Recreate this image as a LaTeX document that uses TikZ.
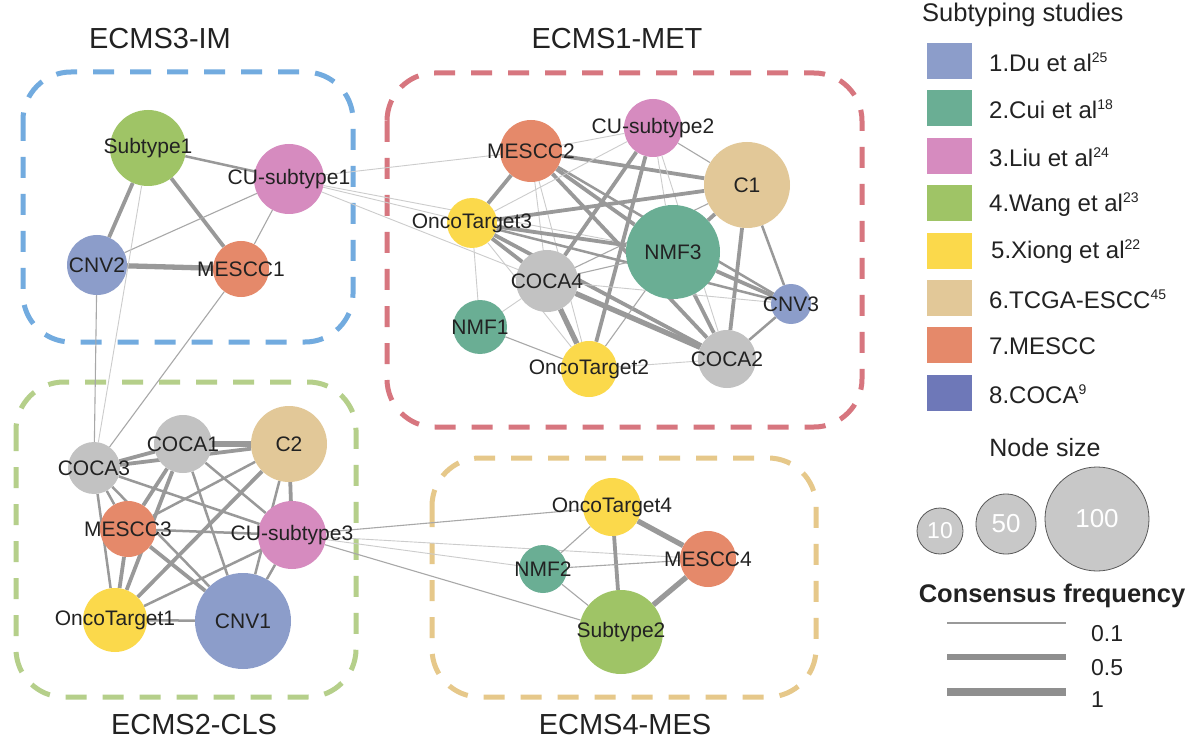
\documentclass[tikz,border=0pt]{standalone}
\usepackage{fontspec}
\setmainfont{Liberation Sans}
\usetikzlibrary{backgrounds}
\definecolor{cdu}{HTML}{8C9DCA}
\definecolor{ccui}{HTML}{6AAE94}
\definecolor{cliu}{HTML}{D68BBF}
\definecolor{cwang}{HTML}{9FC466}
\definecolor{cxio}{HTML}{FBD94B}
\definecolor{ctcga}{HTML}{E2C898}
\definecolor{cmes}{HTML}{E5896A}
\definecolor{ccoca}{HTML}{6E78B8}
\definecolor{cgray}{HTML}{C2C2C2}
\definecolor{bblue}{HTML}{72ABDF}
\definecolor{bred}{HTML}{D7767F}
\definecolor{bgreen}{HTML}{B5CF8A}
\definecolor{byel}{HTML}{E6C88A}
\definecolor{edk}{HTML}{999999}
\definecolor{elt}{HTML}{CCCCCC}
\definecolor{txt}{HTML}{222222}
\newcommand\gn[6]{\node[gcirc,fill=#5,minimum size=#4pt] (#1) at (#2,#3) {};}
\newcommand\gl[2]{\node[glbl] (#1-l) at (#1) {#2};}
\newcommand\sups[1]{{\fontsize{14}{14}\selectfont\raisebox{9pt}{#1}}}
\begin{document}
\begin{tikzpicture}[x=1pt,y=-1pt,
  gcirc/.style={circle,inner sep=0pt,draw=none},
  glbl/.style={inner sep=0pt,text=txt,font=\fontsize{21}{24}\selectfont},
  ttl/.style={inner sep=0pt,text=txt,font=\fontsize{29}{32}\selectfont},
  leg/.style={inner sep=0pt,text=txt,anchor=west,font=\fontsize{24}{28}\selectfont},
  swatch/.style={rectangle,inner sep=0pt,minimum width=45pt,minimum height=36pt,draw=none},
  grpbox/.style={line width=5pt,dash pattern=on 21pt off 16pt,rounded corners=48pt},
  ea/.style={draw=elt,line width=0.9pt},
  eb/.style={draw=edk!85,line width=1.1pt},
  ec/.style={draw=edk,line width=2.5pt},
  ed/.style={draw=edk,line width=3.8pt},
  ee/.style={draw=edk,line width=5.3pt},
  sizec/.style={circle,inner sep=0pt,fill=cgray!90,draw=black!65,line width=0.8pt,text=white},
]
\useasboundingbox (0,0) rectangle (1200,746);

% titles
\node[ttl] (t3) at (160,39) {ECMS3-IM};
\node[ttl] (t1) at (617,39) {ECMS1-MET};
\node[ttl] (t2) at (194,725) {ECMS2-CLS};
\node[ttl] (t4) at (625,725) {ECMS4-MES};

% nodes (circles)
\gn{S1}{148}{148}{76}{cwang}{}
\gn{CUs1}{289}{179}{70}{cliu}{}
\gn{CNV2}{97}{265}{60}{cdu}{}
\gn{ME1}{241}{269}{56}{cmes}{}
\gn{ME2}{531}{151}{62}{cmes}{}
\gn{CUs2}{653}{128}{58}{cliu}{}
\gn{C1}{747}{185}{86}{ctcga}{}
\gn{OT3}{472}{223}{50}{cxio}{}
\gn{NMF3}{673}{252}{94}{ccui}{}
\gn{COCA4}{547}{281}{62}{cgray}{}
\gn{CNV3}{791}{304}{40}{cdu}{}
\gn{NMF1}{480}{327}{54}{ccui}{}
\gn{OT2}{589}{369}{56}{cxio}{}
\gn{COCA2}{727}{359}{58}{cgray}{}
\gn{COCA3}{94}{468}{52}{cgray}{}
\gn{COCA1}{183}{444}{58}{cgray}{}
\gn{C2}{289}{444}{76}{ctcga}{}
\gn{ME3}{128}{529}{56}{cmes}{}
\gn{CUs3}{292}{535}{68}{cliu}{}
\gn{OT1}{115}{620}{64}{cxio}{}
\gn{CNV1}{243}{621}{96}{cdu}{}
\gn{OT4}{612}{507}{58}{cxio}{}
\gn{ME4}{708}{559}{56}{cmes}{}
\gn{NMF2}{543}{569}{48}{ccui}{}
\gn{S2}{621}{632}{84}{cwang}{}

\begin{scope}[on background layer]
\fill[white] (0,0) rectangle (1200,746);
% group boxes
\draw[grpbox,draw=bblue] (23,72) rectangle (353,342);
\draw[grpbox,draw=bred] (387,73) rectangle (862,427);
\draw[grpbox,draw=bgreen] (16,382) rectangle (356,697);
\draw[grpbox,draw=byel] (432,458) rectangle (816,697);

% ECMS3 edges
\draw[ec] (S1) -- (CUs1);
\draw[ed] (S1) -- (CNV2);
\draw[ed] (S1) -- (ME1);
\draw[ee] (CNV2) -- (ME1);
\draw[eb] (CNV2) -- (CUs1);
\draw[eb] (ME1) -- (CUs1);
\draw[ea] (S1) -- (COCA3);
\draw[eb] (CNV2) -- (COCA3);
\draw[eb] (ME1) -- (COCA3);
\draw[ea] (CUs1) -- (ME2);
\draw[ea] (CUs1) -- (OT3);
\draw[ea] (CUs1) -- (NMF3);
\draw[ea] (CUs1) -- (COCA4);

% ECMS1 edges
\draw[ed] (ME2) -- (OT3);
\draw[ed] (ME2) -- (C1);
\draw[ed] (ME2) -- (NMF3);
\draw[ed] (ME2) -- (COCA2);
\draw[ec] (ME2) -- (CNV3);
\draw[ea] (ME2) -- (CUs2);
\draw[ea] (ME2) -- (COCA4);
\draw[ea] (ME2) -- (OT2);
\draw[ed] (CUs2) -- (COCA4);
\draw[ed] (CUs2) -- (OT2);
\draw[ea] (CUs2) -- (OT3);
\draw[eb] (CUs2) -- (C1);
\draw[ea] (CUs2) -- (NMF3);
\draw[ea] (CUs2) -- (COCA2);
\draw[ed] (C1) -- (OT3);
\draw[ed] (C1) -- (NMF3);
\draw[ed] (C1) -- (COCA2);
\draw[ec] (C1) -- (CNV3);
\draw[eb] (C1) -- (COCA4);
\draw[ed] (OT3) -- (NMF3);
\draw[ec] (OT3) -- (CNV3);
\draw[ed] (OT3) -- (COCA4);
\draw[ed] (OT3) -- (COCA2);
\draw[ea] (OT3) -- (OT2);
\draw[ea] (OT3) -- (NMF1);
\draw[eb] (NMF3) -- (COCA4);
\draw[ed] (NMF3) -- (COCA2);
\draw[ed] (NMF3) -- (CNV3);
\draw[eb] (NMF3) -- (OT2);
\draw[ee] (COCA4) -- (OT2);
\draw[ee] (COCA4) -- (COCA2);
\draw[ea] (COCA4) -- (NMF1);
\draw[ea] (COCA4) -- (CNV3);
\draw[eb] (NMF1) -- (OT2);
\draw[ea] (OT2) -- (COCA2);
\draw[ec] (CNV3) -- (COCA2);

% ECMS2 edges
\draw[ed] (COCA3) -- (COCA1);
\draw[ed] (COCA3) -- (C2);
\draw[ee] (COCA1) -- (C2);
\draw[ec] (COCA3) -- (ME3);
\draw[ec] (COCA3) -- (OT1);
\draw[ec] (COCA3) -- (CUs3);
\draw[ec] (COCA3) -- (CNV1);
\draw[ed] (COCA1) -- (ME3);
\draw[ed] (COCA1) -- (OT1);
\draw[ec] (COCA1) -- (CNV1);
\draw[ec] (COCA1) -- (CUs3);
\draw[ec] (C2) -- (ME3);
\draw[ed] (C2) -- (OT1);
\draw[ed] (C2) -- (CUs3);
\draw[ec] (C2) -- (CNV1);
\draw[ec] (ME3) -- (CUs3);
\draw[ed] (ME3) -- (OT1);
\draw[ed] (ME3) -- (CNV1);
\draw[ec] (CUs3) -- (OT1);
\draw[ec] (CUs3) -- (CNV1);
\draw[ec] (OT1) -- (CNV1);

% cross to ECMS4
\draw[eb] (CUs3) -- (OT4);
\draw[ea] (CUs3) -- (ME4);
\draw[ea] (CUs3) -- (NMF2);
\draw[eb] (CUs3) -- (S2);

% ECMS4 edges
\draw[ee] (OT4) -- (ME4);
\draw[ed] (OT4) -- (S2);
\draw[eb] (OT4) -- (NMF2);
\draw[eb] (NMF2) -- (ME4);
\draw[eb] (NMF2) -- (S2);
\draw[ee] (ME4) -- (S2);
\end{scope}

% labels
\gl{S1}{Subtype1}
\gl{CUs1}{CU-subtype1}
\gl{CNV2}{CNV2}
\gl{ME1}{MESCC1}
\gl{ME2}{MESCC2}
\gl{CUs2}{CU-subtype2}
\gl{C1}{C1}
\gl{OT3}{OncoTarget3}
\gl{NMF3}{NMF3}
\gl{COCA4}{COCA4}
\gl{CNV3}{CNV3}
\gl{NMF1}{NMF1}
\gl{OT2}{OncoTarget2}
\gl{COCA2}{COCA2}
\gl{COCA3}{COCA3}
\gl{COCA1}{COCA1}
\gl{C2}{C2}
\gl{ME3}{MESCC3}
\gl{CUs3}{CU-subtype3}
\gl{OT1}{OncoTarget1}
\gl{CNV1}{CNV1}
\gl{OT4}{OncoTarget4}
\gl{ME4}{MESCC4}
\gl{NMF2}{NMF2}
\gl{S2}{Subtype2}

% legend: subtyping studies
\node[leg,font=\fontsize{25.5}{28}\selectfont] (lh) at (922,15) {Subtyping studies};
\node[swatch,fill=cdu] (sw1) at (949.5,61) {};
\node[swatch,fill=ccui] (sw2) at (949.5,108.4) {};
\node[swatch,fill=cliu] (sw3) at (949.5,155.8) {};
\node[swatch,fill=cwang] (sw4) at (949.5,203.2) {};
\node[swatch,fill=cxio] (sw5) at (949.5,250.6) {};
\node[swatch,fill=ctcga] (sw6) at (949.5,298) {};
\node[swatch,fill=cmes] (sw7) at (949.5,345.4) {};
\node[swatch,fill=ccoca] (sw8) at (949.5,392.8) {};
\node[leg] (lt1) at (989,62) {1.Du et al\sups{25}};
\node[leg] (lt2) at (989,109.4) {2.Cui et al\sups{18}};
\node[leg] (lt3) at (989,156.8) {3.Liu et al\sups{24}};
\node[leg] (lt4) at (989,204.2) {4.Wang et al\sups{23}};
\node[leg] (lt5) at (991,251.6) {5.Xiong et al\sups{22}};
\node[leg] (lt6) at (989,299) {6.TCGA-ESCC\sups{45}};
\node[leg] (lt7) at (989,346.4) {7.MESCC};
\node[leg] (lt8) at (989,393.8) {8.COCA\sups{9}};

% legend: node size
\node[inner sep=0pt,text=txt,font=\fontsize{25}{28}\selectfont] (ns) at (1045,448) {Node size};
\node[sizec,minimum size=46pt,font=\fontsize{23}{24}\selectfont] (s10) at (940,531) {10};
\node[sizec,minimum size=60pt,font=\fontsize{26}{28}\selectfont] (s50) at (1006,524) {50};
\node[sizec,minimum size=104pt,font=\fontsize{26}{28}\selectfont] (s100) at (1097,519) {100};

% legend: consensus frequency
\node[inner sep=0pt,text=txt,font=\bfseries\fontsize{25.5}{28}\selectfont] (cf) at (1052,596) {Consensus frequency};
\coordinate (a1) at (947,623); \coordinate (b1) at (1066,623);
\coordinate (a2) at (947,657); \coordinate (b2) at (1066,657);
\coordinate (a3) at (947,692); \coordinate (b3) at (1066,692);
\draw[draw=edk,line width=1.2pt] (a1) -- (b1);
\draw[draw=edk!110,line width=5.5pt] (a2) -- (b2);
\draw[draw=edk!110,line width=8.5pt] (a3) -- (b3);
\node[leg,font=\fontsize{23}{26}\selectfont] (l01) at (1091,634) {0.1};
\node[leg,font=\fontsize{23}{26}\selectfont] (l05) at (1091,668) {0.5};
\node[leg,font=\fontsize{23}{26}\selectfont] (l1) at (1091,700) {1};
\end{tikzpicture}
\end{document}
